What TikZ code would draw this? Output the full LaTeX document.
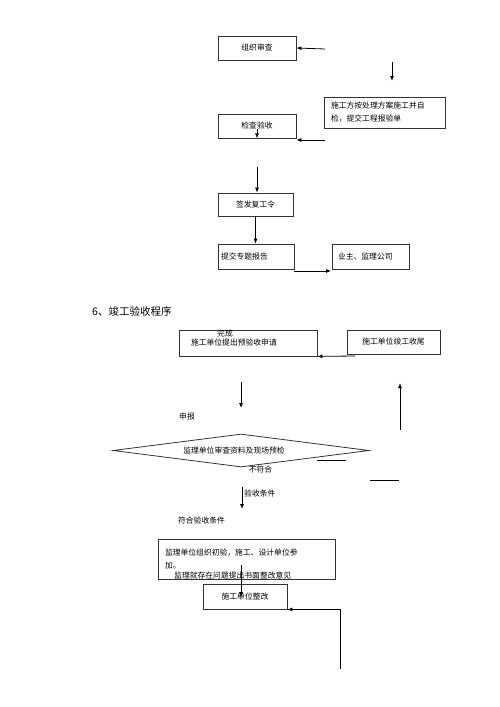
\documentclass[tikz,border=0pt]{standalone}
\usepackage{fontspec}
\newfontfamily\cjkfont{Noto Sans CJK SC}
\usetikzlibrary{shapes.geometric,arrows.meta}
\definecolor{boxgray}{rgb}{.2,.2,.2}

\begin{document}
\begin{tikzpicture}[x=1pt,y=-1pt,
      box/.style={draw=boxgray,line width=.8pt,inner sep=0pt,font=\cjkfont\fontsize{7.8}{10}\selectfont},
      txt/.style={inner sep=0pt,font=\cjkfont\fontsize{7.8}{10}\selectfont},
      arr/.style={line width=.8pt,-{Latex[length=5pt,width=4pt]}}]
      \useasboundingbox (0,0) rectangle (500,707);
      \node[box,minimum width=78pt,minimum height=24pt] (org) at (257,48) {组织审查};
      \node[box,minimum width=121pt,minimum height=31pt,align=left,text width=107pt,font=\cjkfont\fontsize{7.8}{13}\selectfont] (fix) at (384.5,112.5) {施工方按处理方案施工并自\\检，提交工程报验单};
      \node[box,minimum width=78pt,minimum height=24pt] (check) at (257,126) {检查验收};
      \node[box,minimum width=75pt,minimum height=23pt] (sign) at (255.5,204.5) {签发复工令};
      \node[box,minimum width=76pt,minimum height=25pt,align=left,text width=70pt] (report) at (256,256.5) {提交专题报告};
      \node[box,minimum width=77pt,minimum height=25pt,align=left,text width=65pt] (owner) at (370.5,256.5) {业主、监理公司};
      \coordinate (a1) at (325,49);
      \draw[arr] (a1) -- (org.east);
      \coordinate (a2s) at (392,62);
      \coordinate (a2e) at (392,81);
      \draw[arr] (a2s) -- (a2e);
      \coordinate (a3) at (325,140);
      \draw[arr] (a3) -- (a3 -| check.east);
      \draw[arr] (check.center) ++(0,3) -- (check.south);
      \coordinate (a4) at (257,167);
      \draw[arr] (a4) -- (a4 |- sign.north);
      \draw[arr] (sign.south) -- (sign.south |- report.north);
      \coordinate (a5s) at (294,271);
      \coordinate (a5e) at (331,271);
      \draw[arr] (a5s) -- (a5e);

      \node[txt,anchor=west,font=\cjkfont\fontsize{10.5}{12}\selectfont] (title) at (92,311) {6、竣工验收程序};
      \node[box,minimum width=138pt,minimum height=26pt,align=left,text width=114pt] (apply) at (248,343) {施工单位提出预验收申请};
      \node[txt] (done) at (225,333.5) {完成};
      \node[box,minimum width=93pt,minimum height=24pt] (finish) at (393.5,342) {施工单位竣工收尾};
      \coordinate (b1) at (355,356);
      \draw[arr] (b1) -- (apply.south east);
      \coordinate (b2s) at (241,382);
      \coordinate (b2e) at (241,408);
      \draw[arr] (b2s) -- (b2e);
      \coordinate (b3s) at (400,430);
      \coordinate (b3e) at (400,383);
      \draw[arr] (b3s) -- (b3e);
      \node[txt] (declare) at (187,417) {申报};
      \node[box,diamond,aspect=7.75,minimum width=256pt,minimum height=33pt] (pre) at (241,450.5) {};
      \node[txt] (pretxt) at (234,451) {监理单位审查资料及现场预检};
      \coordinate (c1s) at (317,460);
      \coordinate (c1e) at (346,460);
      \draw[line width=.8pt] (c1s) -- (c1e);
      \coordinate (c2s) at (370,480);
      \coordinate (c2e) at (399,480);
      \draw[line width=.8pt] (c2s) -- (c2e);
      \node[txt] (fail) at (260.5,470) {不符合};
      \coordinate (d1s) at (242,487);
      \coordinate (d1e) at (242,509);
      \draw[arr] (d1s) -- (d1e);
      \node[txt,anchor=west] (cond) at (244,494) {验收条件};
      \node[txt] (pass) at (201.5,521) {符合验收条件};
      \node[box,minimum width=177pt,minimum height=40pt,align=left,text width=163pt,font=\cjkfont\fontsize{7.8}{13}\selectfont] (first) at (246.5,559) {监理单位组织初验，施工、设计单位参\\加。};
      \node[txt,anchor=west] (advice) at (174,576) {监理就存在问题提出书面整改意见};
      \node[box,minimum width=84pt,minimum height=25pt] (redo) at (245,596.5) {施工单位整改};
      \coordinate (e1s) at (241,565);
      \coordinate (e1e) at (241,597);
      \draw[arr] (e1s) -- (e1e);
      \coordinate (e2) at (340,669);
      \draw[arr] (e2) |- (redo.south east);
    \end{tikzpicture}
\end{document}
